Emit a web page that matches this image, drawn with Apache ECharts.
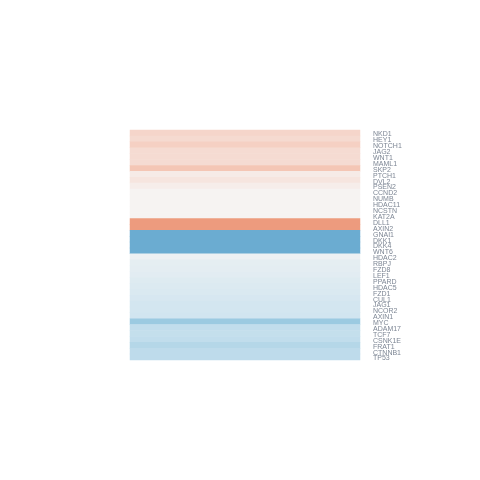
<!DOCTYPE html>
<html>
<head>
<meta charset="utf-8">
<script src="https://cdn.jsdelivr.net/npm/echarts@6/dist/echarts.min.js"></script>
<style>html,body{margin:0;padding:0;background:#fff}#c{width:480px;height:480px}</style>
</head>
<body>
<div id="c"></div>
<script>
var genes = ["NKD1","HEY1","NOTCH1","JAG2","WNT1","MAML1","SKP2","PTCH1","DVL2","PSEN2","CCND2","NUMB","HDAC11","NCSTN","KAT2A","DLL1","AXIN2","GNAI1","DKK1","DKK4","WNT6","HDAC2","RBPJ","FZD8","LEF1","PPARD","HDAC5","FZD1","CUL1","JAG1","NCOR2","AXIN1","MYC","ADAM17","TCF7","CSNK1E","FRAT1","CTNNB1","TP53"];
var values = [0.20,0.17,0.22,0.16,0.16,0.16,0.26,0.06,0.10,0.05,0.01,0.01,0.01,0.01,0.01,0.42,0.42,-0.50,-0.50,-0.50,-0.50,-0.05,-0.09,-0.10,-0.11,-0.13,-0.14,-0.15,-0.17,-0.19,-0.19,-0.20,-0.37,-0.25,-0.24,-0.25,-0.29,-0.26,-0.26];
var columns = ["value"];

var data = values.map(function(v, i){ return [0, i, v]; });
var chart = echarts.init(document.getElementById('c'), null, {renderer:'canvas'});
chart.setOption({
  animation: false,
  grid: {left:130, top:130, width:230, height:230},
  xAxis: {type:'category', data: columns, show:false},
  yAxis: {type:'category', data: genes, inverse:true, position:'right',
    axisLine:{show:false}, axisTick:{show:false}, splitLine:{show:false},
    axisLabel:{margin:13, interval:0,
      formatter: function(v){ return '{a|' + v + '}'; },
      rich:{a:{fontSize:7, color:'#7d8694', fontFamily:'Liberation Sans', padding:[3,0,0,0]}}}},
  visualMap: {show:false, min:-1, max:1, calculable:false, dimension:2,
    inRange:{color:['#053061','#2166ac','#4393c3','#92c5de','#d1e5f0','#f6f5f4','#f5d5ca','#f0a283','#d6604d','#b2182b','#67001f']}},
  series: [{type:'heatmap', data:data, itemStyle:{borderWidth:0}}]
});
</script>
</body>
</html>
